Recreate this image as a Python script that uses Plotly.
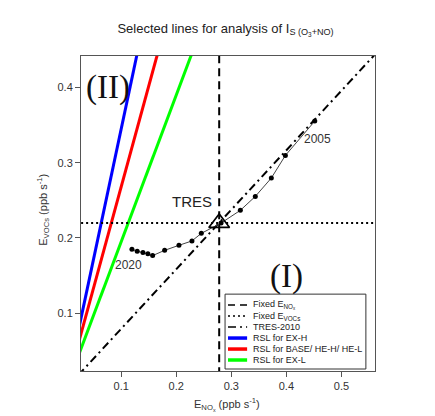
import plotly.graph_objects as go

# ---- data ----
enox = [0.4516, 0.3982, 0.3727, 0.3436, 0.3164, 0.2813, 0.2455, 0.2285,
        0.2049, 0.1789, 0.1571, 0.1485, 0.1395, 0.1291, 0.1195]
evoc = [0.3554, 0.3097, 0.2797, 0.2552, 0.2367, 0.2197, 0.2061, 0.1960,
        0.1902, 0.1835, 0.1765, 0.1788, 0.1805, 0.1822, 0.1849]

tres_x = [0.278]
tres_y = [0.22]

fixed_enox_x = [0.278, 0.278]
fixed_enox_y = [0.0, 0.5]
fixed_evoc_x = [0.0, 0.6]
fixed_evoc_y = [0.22, 0.22]

tres2010_x = [0.0, 0.6]
tres2010_y = [0.0, 0.475]

rsl_exh_x = [0.0, 0.15]
rsl_exh_y = [0.0, 0.5175]
rsl_base_x = [0.0, 0.2]
rsl_base_y = [0.0, 0.536]
rsl_exl_x = [0.0, 0.25]
rsl_exl_y = [0.0, 0.4875]

x_ticks = [0.1, 0.2, 0.3, 0.4, 0.5]
y_ticks = [0.1, 0.2, 0.3, 0.4]
x_range = [0.027, 0.561]
y_range = [0.023, 0.442]

label_years = ["2005", "2020"]
label_x = [0.4558, 0.114]
label_y = [0.331, 0.1645]

legend_labels = ["Fixed E<sub>NO<sub>x</sub></sub>", "Fixed E<sub>VOCs</sub>", "TRES-2010",
                 "RSL for EX-H", "RSL for BASE/ HE-H/ HE-L", "RSL for EX-L"]
legend_colors = ["black", "black", "black", "#0000ff", "#ff0000", "#00ff00"]
legend_dash = ["7px,5px", "2px,3px", "8px,4px,2px,4px", "solid", "solid", "solid"]
legend_width = [1.5, 1.5, 1.5, 3.5, 3.5, 3.5]

fig = go.Figure()

dashdot = "8px,4px,2px,4px"

fig.add_trace(go.Scatter(x=rsl_exh_x, y=rsl_exh_y, mode="lines",
                         line=dict(color="#0000ff", width=3), showlegend=False))
fig.add_trace(go.Scatter(x=rsl_base_x, y=rsl_base_y, mode="lines",
                         line=dict(color="#ff0000", width=3), showlegend=False))
fig.add_trace(go.Scatter(x=rsl_exl_x, y=rsl_exl_y, mode="lines",
                         line=dict(color="#00ff00", width=3), showlegend=False))
fig.add_trace(go.Scatter(x=tres2010_x, y=tres2010_y, mode="lines",
                         line=dict(color="black", width=2, dash=dashdot), showlegend=False))
fig.add_trace(go.Scatter(x=fixed_enox_x, y=fixed_enox_y, mode="lines",
                         line=dict(color="black", width=2, dash="8px,5px"), showlegend=False))
fig.add_trace(go.Scatter(x=fixed_evoc_x, y=fixed_evoc_y, mode="lines",
                         line=dict(color="black", width=2, dash="2px,3px"), showlegend=False))
fig.add_trace(go.Scatter(x=enox, y=evoc, mode="lines+markers",
                         line=dict(color="#444", width=1),
                         marker=dict(color="black", size=5), showlegend=False))
fig.add_trace(go.Scatter(x=tres_x, y=tres_y, mode="markers",
                         marker=dict(symbol="triangle-up-open", size=18,
                                     color="black", line=dict(width=1.6)),
                         showlegend=False))

for t, xx, yy in zip(label_years, label_x, label_y):
    fig.add_annotation(x=xx, y=yy, text=t, showarrow=False,
                       font=dict(size=12, color="#333", family="Liberation Sans"))

fig.add_annotation(x=0.2286, y=0.2486, text="TRES", showarrow=False,
                   font=dict(size=15, color="#222", family="Liberation Sans"))
fig.add_annotation(x=0.0767, y=0.400, text="(II)", showarrow=False,
                   font=dict(size=33, color="#111", family="Liberation Serif"))
fig.add_annotation(x=0.3995, y=0.149, text="(I)", showarrow=False,
                   font=dict(size=33, color="#111", family="Liberation Serif"))

# manual legend box (paper coordinates)
fig.add_shape(type="rect", xref="paper", yref="paper", x0=0.490, x1=0.969,
              y0=0.0063, y1=0.244, fillcolor="white", line=dict(color="#333", width=1))
row_y = [0.2092, 0.1743, 0.1395, 0.1046, 0.0697, 0.0349]
for lab, col, dsh, w, ry in zip(legend_labels, legend_colors, legend_dash, legend_width, row_y):
    fig.add_shape(type="line", xref="paper", yref="paper", x0=0.50, x1=0.565,
                  y0=ry, y1=ry, line=dict(color=col, width=w, dash=dsh))
    fig.add_annotation(xref="paper", yref="paper", x=0.578, y=ry, text=lab,
                       showarrow=False, xanchor="left", yanchor="middle",
                       font=dict(size=9, color="#222", family="Liberation Sans"))

# axis titles
fig.add_annotation(xref="paper", yref="paper", x=0.498, y=-0.139,
                   text="E<sub>NO<sub>x</sub></sub> (ppb s<sup>-1</sup>)", showarrow=False,
                   font=dict(size=11, color="#333", family="Liberation Sans"))
fig.add_annotation(xref="paper", yref="paper", x=-0.163, y=0.512,
                   text="E<sub>VOCs</sub> (ppb s<sup>-1</sup>)", showarrow=False, textangle=-90,
                   font=dict(size=11, color="#333", family="Liberation Sans"))

axis_common = dict(showgrid=False, zeroline=False, showline=True, mirror=True,
                   linecolor="#555", linewidth=1, ticks="outside", ticklen=5,
                   tickcolor="#555", tickfont=dict(size=11, color="#333",
                                                   family="Liberation Sans"))
fig.update_xaxes(range=x_range, tickvals=x_ticks, ticktext=[str(v) for v in x_ticks],
                 **axis_common)
fig.update_yaxes(range=y_range, tickvals=y_ticks, ticktext=[str(v) for v in y_ticks],
                 **axis_common)

fig.update_layout(
    width=435, height=416,
    margin=dict(l=73, r=68, t=48, b=53),
    paper_bgcolor="white", plot_bgcolor="white",
    title=dict(text="Selected lines for analysis of I<sub>S (O<sub>3</sub>+NO)</sub>",
               x=0.5, xanchor="center", y=0.952, yanchor="middle",
               font=dict(size=13, color="#222", family="Liberation Sans")),
    showlegend=False,
)

fig.write_html("out.html")
